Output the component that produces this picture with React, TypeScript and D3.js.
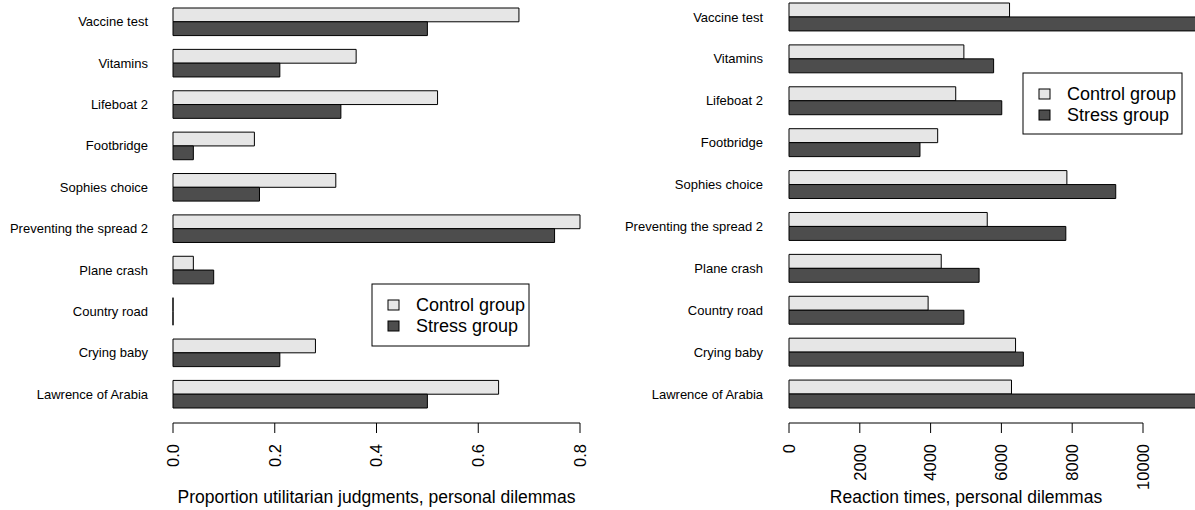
import React from "react";
import * as d3 from "d3";

const categories = [
  "Vaccine test",
  "Vitamins",
  "Lifeboat 2",
  "Footbridge",
  "Sophies choice",
  "Preventing the spread 2",
  "Plane crash",
  "Country road",
  "Crying baby",
  "Lawrence of Arabia",
];
const series = ["Control group", "Stress group"];
const propControl = [0.68, 0.36, 0.52, 0.16, 0.32, 0.8, 0.04, 0.0, 0.28, 0.64];
const propStress = [0.5, 0.21, 0.33, 0.04, 0.17, 0.75, 0.08, 0.0, 0.21, 0.5];
const rtControl = [6230, 4940, 4710, 4200, 7850, 5600, 4300, 3930, 6400, 6285];
const rtStress = [12000, 5780, 6010, 3700, 9230, 7820, 5370, 4940, 6620, 12000];
const propTicks = [0, 0.2, 0.4, 0.6, 0.8];
const rtTicks = [0, 2000, 4000, 6000, 8000, 10000];
const colors = ["#e6e6e6", "#4d4d4d"];

const FONT = "'Liberation Sans', Arial, Helvetica, sans-serif";

type PanelProps = {
  control: number[];
  stress: number[];
  domain: [number, number];
  xRange: [number, number];
  yRange: [number, number];
  ticks: number[];
  fmt: (v: number) => string;
  title: string;
  labelRight: number;
  legend: { x: number; y: number; w: number; h: number };
};

function Panel(p: PanelProps) {
  const x = d3.scaleLinear().domain(p.domain).range(p.xRange);
  const yGroup = d3
    .scaleBand<string>()
    .domain(categories)
    .range(p.yRange)
    .paddingInner(1 / 3)
    .paddingOuter(0);
  const ySub = d3
    .scaleBand<string>()
    .domain(series)
    .range([0, yGroup.bandwidth()]);
  const axisY = 423;
  const vals = [p.control, p.stress];
  return (
    <g>
      {categories.map((c, i) => (
        <g key={c} transform={`translate(0,${yGroup(c)})`}>
          {series.map((s, j) => {
            const x0 = x(0);
            const x1 = x(vals[j][i]);
            const y0 = ySub(s) as number;
            const h = ySub.bandwidth();
            const path = d3.path();
            path.moveTo(x0, y0);
            path.lineTo(x1, y0);
            path.lineTo(x1, y0 + h);
            path.lineTo(x0, y0 + h);
            path.closePath();
            return (
              <path
                key={s}
                d={path.toString()}
                fill={colors[j]}
                stroke="#000"
                strokeWidth={1}
              />
            );
          })}
          <text
            x={p.labelRight}
            y={yGroup.bandwidth() / 2}
            dy="0.35em"
            textAnchor="end"
            fontSize={13}
            fontFamily={FONT}
            fill="#000"
          >
            {c}
          </text>
        </g>
      ))}
      <line
        x1={x(p.ticks[0])}
        x2={x(p.ticks[p.ticks.length - 1])}
        y1={axisY}
        y2={axisY}
        stroke="#000"
      />
      {p.ticks.map((t) => (
        <g key={t}>
          <line x1={x(t)} x2={x(t)} y1={axisY} y2={axisY + 10} stroke="#000" />
          <text
            transform={`translate(${x(t)},${axisY + 21}) rotate(-90)`}
            textAnchor="end"
            dy="0.35em"
            fontSize={16.5}
            fontFamily={FONT}
            fill="#000"
          >
            {p.fmt(t)}
          </text>
        </g>
      ))}
      <text
        x={(p.xRange[0] + p.xRange[1]) / 2}
        y={503}
        textAnchor="middle"
        fontSize={17.5}
        fontFamily={FONT}
        fill="#000"
      >
        {p.title}
      </text>
      <g transform={`translate(${p.legend.x},${p.legend.y})`}>
        <rect
          x={0}
          y={0}
          width={p.legend.w}
          height={p.legend.h}
          fill="#fff"
          stroke="#000"
        />
        {series.map((s, j) => (
          <g key={s} transform={`translate(0,${21 + j * 21})`}>
            <rect x={16} y={-5} width={11} height={10} fill={colors[j]} stroke="#000" />
            <text x={44} y={0} dy="0.35em" fontSize={18} fontFamily={FONT} fill="#000">
              {s}
            </text>
          </g>
        ))}
      </g>
    </g>
  );
}

export default function App() {
  return (
    <svg
      width={1195}
      height={510}
      style={{ position: "absolute", left: 0, top: 0, background: "#fff" }}
    >
      <rect width={1195} height={510} fill="#fff" />
      <Panel
        control={propControl}
        stress={propStress}
        domain={[0, 0.8]}
        xRange={[173, 580]}
        yRange={[8, 408]}
        ticks={propTicks}
        fmt={d3.format(".1f")}
        title="Proportion utilitarian judgments, personal dilemmas"
        labelRight={148}
        legend={{ x: 372, y: 284, w: 157, h: 62 }}
      />
      <Panel
        control={rtControl}
        stress={rtStress}
        domain={[0, 10000]}
        xRange={[789, 1143]}
        yRange={[3, 408]}
        ticks={rtTicks}
        fmt={(v) => String(v)}
        title="Reaction times, personal dilemmas"
        labelRight={763}
        legend={{ x: 1023, y: 73, w: 159, h: 61 }}
      />
    </svg>
  );
}
